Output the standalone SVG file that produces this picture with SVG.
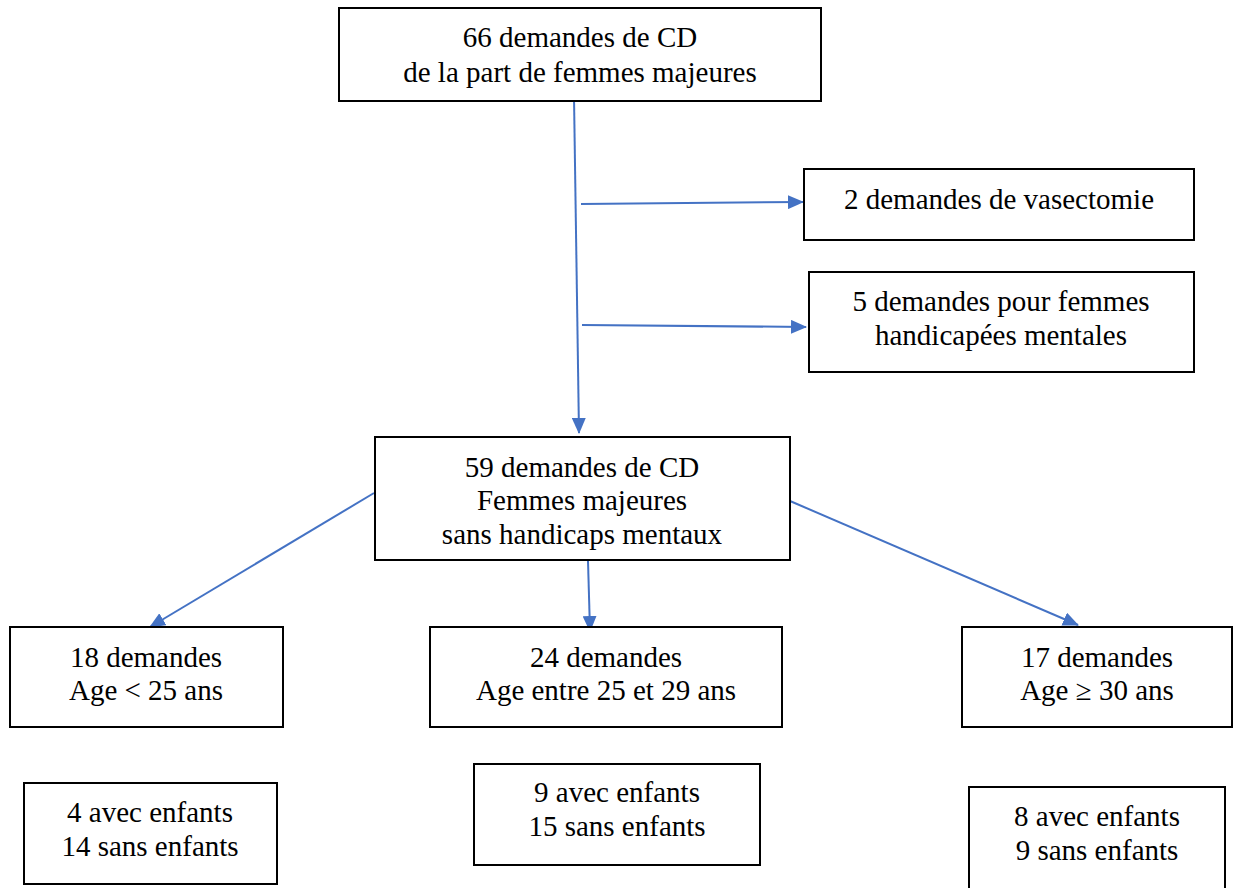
<svg xmlns="http://www.w3.org/2000/svg" width="1235" height="888" viewBox="0 0 1235 888">
<style>
.box{fill:#fff;stroke:#000;stroke-width:2}
.t{font-family:"Liberation Serif","Times New Roman",serif;font-size:29px;fill:#000;text-anchor:middle}
.c{stroke:#4472C4;stroke-width:2;fill:none;marker-end:url(#ah)}
</style>
<defs>
<marker id="ah" markerWidth="16" markerHeight="14" refX="15" refY="7" orient="auto" markerUnits="userSpaceOnUse" viewBox="0 0 16 14">
<path d="M0,0 L16,7 L0,14 z" fill="#4472C4"/>
</marker>
</defs>
<g id="connectors">
<path class="c" d="M574,97 L579,433"/>
<path class="c" d="M581,204 L803,202"/>
<path class="c" d="M582,325 L806,327"/>
<path class="c" d="M374,493 L150,627"/>
<path class="c" d="M588,561 L590,631"/>
<path class="c" d="M790,501 L1078,625"/>
</g>
<g id="n66">
<rect class="box" x="339" y="8" width="482" height="93"/>
<text class="t" x="580" y="47">66 demandes de CD</text>
<text class="t" x="580" y="82">de la part de femmes majeures</text>
</g>
<g id="nvas">
<rect class="box" x="804" y="169" width="390" height="71"/>
<text class="t" x="999" y="209">2 demandes de vasectomie</text>
</g>
<g id="nhand">
<rect class="box" x="809" y="272" width="385" height="100"/>
<text class="t" x="1001" y="311">5 demandes pour femmes</text>
<text class="t" x="1001" y="345">handicapées mentales</text>
</g>
<g id="n59">
<rect class="box" x="375" y="437" width="415" height="123"/>
<text class="t" x="582" y="477">59 demandes de CD</text>
<text class="t" x="582" y="510">Femmes majeures</text>
<text class="t" x="582" y="544">sans handicaps mentaux</text>
</g>
<g id="n18">
<rect class="box" x="10" y="627" width="273" height="100"/>
<text class="t" x="146" y="667">18 demandes</text>
<text class="t" x="146" y="700">Age &lt; 25 ans</text>
</g>
<g id="n24">
<rect class="box" x="430" y="627" width="352" height="100"/>
<text class="t" x="606" y="667">24 demandes</text>
<text class="t" x="606" y="700">Age entre 25 et 29 ans</text>
</g>
<g id="n17">
<rect class="box" x="962" y="627" width="270" height="100"/>
<text class="t" x="1097" y="667">17 demandes</text>
<text class="t" x="1097" y="700">Age ≥ 30 ans</text>
</g>
<g id="n4">
<rect class="box" x="24" y="783" width="253" height="101"/>
<text class="t" x="150" y="822">4 avec enfants</text>
<text class="t" x="150" y="856">14 sans enfants</text>
</g>
<g id="n9">
<rect class="box" x="474" y="764" width="286" height="101"/>
<text class="t" x="617" y="802">9 avec enfants</text>
<text class="t" x="617" y="836">15 sans enfants</text>
</g>
<g id="n8">
<rect class="box" x="969" y="787" width="256" height="102"/>
<text class="t" x="1097" y="826">8 avec enfants</text>
<text class="t" x="1097" y="860">9 sans enfants</text>
</g>
</svg>
